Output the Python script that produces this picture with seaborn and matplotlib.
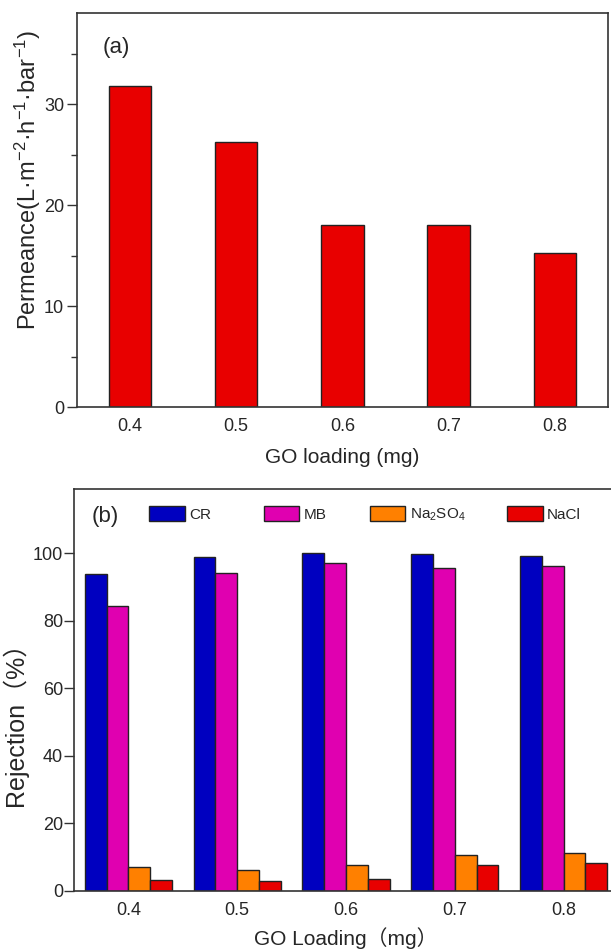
import numpy as np
import pandas as pd
import matplotlib
matplotlib.use("Agg")
import matplotlib.pyplot as plt
import seaborn as sns

# ---- data ----
loading = ["0.4", "0.5", "0.6", "0.7", "0.8"]
permeance = [31.8, 26.3, 18.05, 18.05, 15.3]

series = ["CR", "MB", "Na$_2$SO$_4$", "NaCl"]
cr = [93.7, 98.8, 100.0, 99.7, 99.1]
mb = [84.2, 94.2, 97.2, 95.7, 96.3]
na2so4 = [7.0, 6.2, 7.7, 10.5, 11.2]
nacl = [3.1, 3.0, 3.4, 7.5, 8.3]

colors = ["#0000C0", "#E000B0", "#FF8000", "#E80000"]
red = "#E80000"

sns.set_style("ticks")
plt.rcParams["font.family"] = ["Liberation Sans", "Noto Sans CJK SC", "DejaVu Sans"]
plt.rcParams["mathtext.fontset"] = "custom"
plt.rcParams["mathtext.rm"] = "Liberation Sans"
plt.rcParams["mathtext.it"] = "Liberation Sans:italic"
plt.rcParams["mathtext.bf"] = "Liberation Sans:bold"

W, H = 611, 949
fig = plt.figure(figsize=(W / 100, H / 100), dpi=100)

def px_axes(l, r, t, b):
    return fig.add_axes([l / W, 1 - b / H, (r - l) / W, (b - t) / H])

spine_c = "#333333"
tick_fs = 13
xlab_fs = 15

# ---- panel (a) ----
ax1 = px_axes(76.7, 608, 13.3, 407.3)
dfa = pd.DataFrame({"loading": loading, "perm": permeance})
sns.barplot(data=dfa, x="loading", y="perm", ax=ax1, color=red, saturation=1,
            width=0.4, edgecolor="#222222", linewidth=1.0, errorbar=None)
ax1.set_xlim(-0.5, 4.5)
ax1.set_ylim(0, 39)
ax1.set_yticks([0, 10, 20, 30])
ax1.set_yticks([5, 15, 25, 35], minor=True)
ax1.tick_params(axis="y", which="major", length=7, width=1, pad=2, labelsize=tick_fs, color=spine_c)
ax1.tick_params(axis="y", which="minor", length=4, width=1, color=spine_c)
ax1.tick_params(axis="x", length=0, pad=8, labelsize=tick_fs)
ax1.set_xlabel("GO loading (mg)", fontsize=xlab_fs, labelpad=9)
ax1.set_ylabel("Permeance(L·m$^{-2}$·h$^{-1}$·bar$^{-1}$)", fontsize=17)
ax1.yaxis.set_label_coords(-0.063, 0.577)
ax1.text(103 / W, 1 - 48 / H, "(a)", transform=fig.transFigure, fontsize=16,
         ha="left", va="center")
for s in ax1.spines.values():
    s.set_visible(True)
    s.set_linewidth(1.2)
    s.set_color(spine_c)

# ---- panel (b) ----
ax2 = px_axes(74, 618, 489, 890.7)
dfb = pd.DataFrame({
    "loading": loading * 4,
    "rej": cr + mb + na2so4 + nacl,
    "series": sum([[s] * len(loading) for s in series], []),
})
sns.barplot(data=dfb, x="loading", y="rej", hue="series", hue_order=series,
            palette=colors, saturation=1, width=0.8, ax=ax2,
            edgecolor="#222222", linewidth=1.0, errorbar=None)
ax2.set_xlim(-0.5, 4.5)
ax2.set_ylim(0, 119)
ax2.set_yticks([0, 20, 40, 60, 80, 100])
ax2.tick_params(axis="y", length=7, width=1, pad=1, labelsize=tick_fs, color=spine_c)
ax2.tick_params(axis="x", length=0, pad=8, labelsize=tick_fs)
ax2.set_xlabel("GO Loading（mg）", fontsize=xlab_fs, labelpad=6)
ax2.set_ylabel("Rejection（%）", fontsize=18)
ax2.yaxis.set_label_coords(-0.084, 0.43)
for s in ax2.spines.values():
    s.set_visible(True)
    s.set_linewidth(1.2)
    s.set_color(spine_c)
ax2.text(92 / W, 1 - 516.7 / H, "(b)", transform=fig.transFigure, fontsize=16,
         ha="left", va="center")

# legend: one entry per series, placed at the reference positions
handles, labels = ax2.get_legend_handles_labels()
if ax2.get_legend() is not None:
    ax2.get_legend().remove()
legend_x = [149, 263.5, 369.5, 507]
for h, lab, lx in zip(handles, labels, legend_x):
    fig.legend([h], [lab], loc="upper left",
               bbox_to_anchor=(lx / W, 1 - 506 / H),
               bbox_transform=fig.transFigure, frameon=False, fontsize=11,
               handlelength=2.33, handleheight=1.16, handletextpad=0.3,
               borderpad=0, borderaxespad=0)

fig.savefig("out.png", dpi=100)
